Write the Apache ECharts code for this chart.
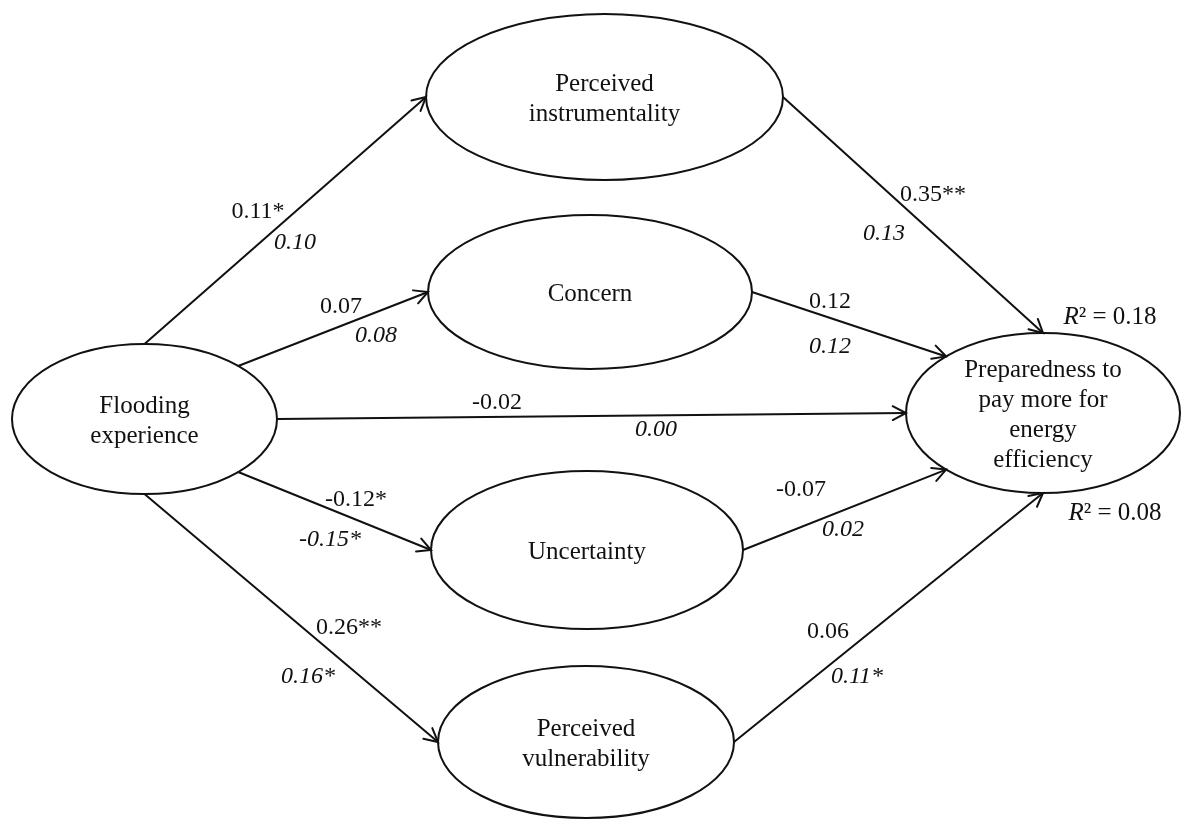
<!DOCTYPE html>
<html>
<head>
<meta charset="utf-8">
<script src="https://cdn.jsdelivr.net/npm/echarts@6/dist/echarts.min.js"></script>
<style>
  html, body { margin: 0; padding: 0; background: #fff; }
  #chart { width: 1182px; height: 819px; }
</style>
</head>
<body>
<div id="chart"></div>
<script>
// ---- Model content -------------------------------------------------------
// Latent constructs of the path model
const nodeLabels = [
  'Flooding\nexperience',
  'Perceived\ninstrumentality',
  'Concern',
  'Uncertainty',
  'Perceived\nvulnerability',
  'Preparedness to\npay more for\nenergy\nefficiency'
];
// Directed paths (source index -> target index)
const pathFrom = [0, 0, 0, 0, 0, 1, 2, 3, 4];
const pathTo   = [1, 2, 5, 3, 4, 5, 5, 5, 5];
// Path coefficients: first model (upright) and second model (italic)
const coefUpright = ['0.11*', '0.07', '-0.02', '-0.12*', '0.26**', '0.35**', '0.12', '-0.07', '0.06'];
const coefItalic  = ['0.10', '0.08', '0.00', '-0.15*', '0.16*', '0.13', '0.12', '0.02', '0.11*'];
// Explained variance of the outcome for the two models
const rSquared = ['0.18', '0.08'];

// ---- Layout (canvas pixels) ----------------------------------------------
const nodeLayout = [
  { cx: 144.5, cy: 419, rx: 132.5, ry: 75 },
  { cx: 604.5, cy: 97,  rx: 178.5, ry: 83 },
  { cx: 590,   cy: 292, rx: 162,   ry: 77 },
  { cx: 587,   cy: 550, rx: 156,   ry: 79 },
  { cx: 586,   cy: 742, rx: 148,   ry: 76 },
  { cx: 1043,  cy: 413, rx: 137,   ry: 80 }
];
// Where each path leaves its source and meets its target (angle on the ellipse, degrees)
const pathAnchors = [
  [-90, 180], [-45, 180], [0, 180], [45, 180], [90, 180],
  [0, -90], [0, -135], [0, 135], [0, 90]
];
const uprightPos = [[258, 212], [341, 307], [497, 403], [356, 500], [349, 628], [933, 195], [830, 302], [801, 490], [828, 632]];
const italicPos  = [[295, 243], [376, 336], [656, 430], [330, 540], [308, 677], [884, 234], [830, 347], [843, 530], [857, 677]];
const r2Pos = [[1110, 317], [1115, 513]];

const FONT = "'Liberation Serif', 'Times New Roman', serif";
const INK = '#111';

function anchorPoint(n, deg) {
  const L = nodeLayout[n], a = deg * Math.PI / 180;
  return [L.cx + L.rx * Math.cos(a), L.cy + L.ry * Math.sin(a)];
}

const nodeData = nodeLayout.map((L, i) => [L.cx, L.cy, L.rx, L.ry, i]);
const edgeData = pathFrom.map((s, i) => {
  const p0 = anchorPoint(s, pathAnchors[i][0]);
  const p1 = anchorPoint(pathTo[i], pathAnchors[i][1]);
  return [p0[0], p0[1], p1[0], p1[1], i];
});
const uprightData = uprightPos.map((p, i) => [p[0], p[1], i]);
const italicData = italicPos.map((p, i) => [p[0], p[1], i]);
const r2Data = r2Pos.map((p, i) => [p[0], p[1], i]);

const chart = echarts.init(document.getElementById('chart'), null, { renderer: 'canvas' });

chart.setOption({
  backgroundColor: '#fff',
  animation: false,
  grid: { left: 0, right: 0, top: 0, bottom: 0, containLabel: false },
  xAxis: { type: 'value', min: 0, max: 1182, show: false },
  yAxis: { type: 'value', min: 0, max: 819, inverse: true, show: false },
  series: [
    {
      // construct ellipses with their names
      type: 'custom',
      z: 2,
      data: nodeData,
      encode: { x: 0, y: 1 },
      renderItem: (params, api) => {
        const c = api.coord([api.value(0), api.value(1)]);
        const e = api.coord([api.value(0) + api.value(2), api.value(1) + api.value(3)]);
        const i = api.value(4);
        return {
          type: 'group',
          children: [
            {
              type: 'ellipse',
              shape: { cx: c[0], cy: c[1], rx: Math.abs(e[0] - c[0]), ry: Math.abs(e[1] - c[1]) },
              style: { fill: '#fff', stroke: INK, lineWidth: 2 }
            },
            {
              type: 'text',
              x: c[0], y: c[1] + 2,
              style: {
                text: nodeLabels[i], fill: INK, fontFamily: FONT, fontSize: 25,
                lineHeight: 30, align: 'center', verticalAlign: 'middle'
              }
            }
          ]
        };
      }
    },
    {
      // directed paths with open arrowheads
      type: 'custom',
      z: 3,
      data: edgeData,
      encode: { x: [0, 2], y: [1, 3] },
      renderItem: (params, api) => {
        const a = api.coord([api.value(0), api.value(1)]);
        const b = api.coord([api.value(2), api.value(3)]);
        const ang = Math.atan2(b[1] - a[1], b[0] - a[0]);
        const len = 15, spread = 0.48;
        const h1 = [b[0] - len * Math.cos(ang - spread), b[1] - len * Math.sin(ang - spread)];
        const h2 = [b[0] - len * Math.cos(ang + spread), b[1] - len * Math.sin(ang + spread)];
        const st = { stroke: INK, lineWidth: 2, fill: null, lineCap: 'round', lineJoin: 'miter' };
        return {
          type: 'group',
          children: [
            { type: 'line', shape: { x1: a[0], y1: a[1], x2: b[0], y2: b[1] }, style: st },
            { type: 'polyline', shape: { points: [h1, b, h2] }, style: st }
          ]
        };
      }
    },
    {
      // first-model coefficients
      type: 'custom',
      z: 4,
      data: uprightData,
      encode: { x: 0, y: 1 },
      renderItem: (params, api) => {
        const p = api.coord([api.value(0), api.value(1)]);
        return {
          type: 'text', x: p[0], y: p[1],
          style: {
            text: coefUpright[api.value(2)], fill: INK, fontFamily: FONT, fontSize: 24,
            align: 'center', verticalAlign: 'middle'
          }
        };
      }
    },
    {
      // second-model coefficients
      type: 'custom',
      z: 4,
      data: italicData,
      encode: { x: 0, y: 1 },
      renderItem: (params, api) => {
        const p = api.coord([api.value(0), api.value(1)]);
        return {
          type: 'text', x: p[0], y: p[1],
          style: {
            text: coefItalic[api.value(2)], fill: INK, fontFamily: FONT, fontSize: 24,
            fontStyle: 'italic', align: 'center', verticalAlign: 'middle'
          }
        };
      }
    },
    {
      // R-squared annotations
      type: 'custom',
      z: 4,
      data: r2Data,
      encode: { x: 0, y: 1 },
      renderItem: (params, api) => {
        const p = api.coord([api.value(0), api.value(1)]);
        return {
          type: 'text', x: p[0], y: p[1],
          style: {
            text: '{i|R}{n|\u00B2 = ' + rSquared[api.value(2)] + '}',
            align: 'center', verticalAlign: 'middle',
            rich: {
              i: { fill: INK, fontFamily: FONT, fontSize: 25, fontStyle: 'italic' },
              n: { fill: INK, fontFamily: FONT, fontSize: 25 }
            }
          }
        };
      }
    }
  ]
});
</script>
</body>
</html>
